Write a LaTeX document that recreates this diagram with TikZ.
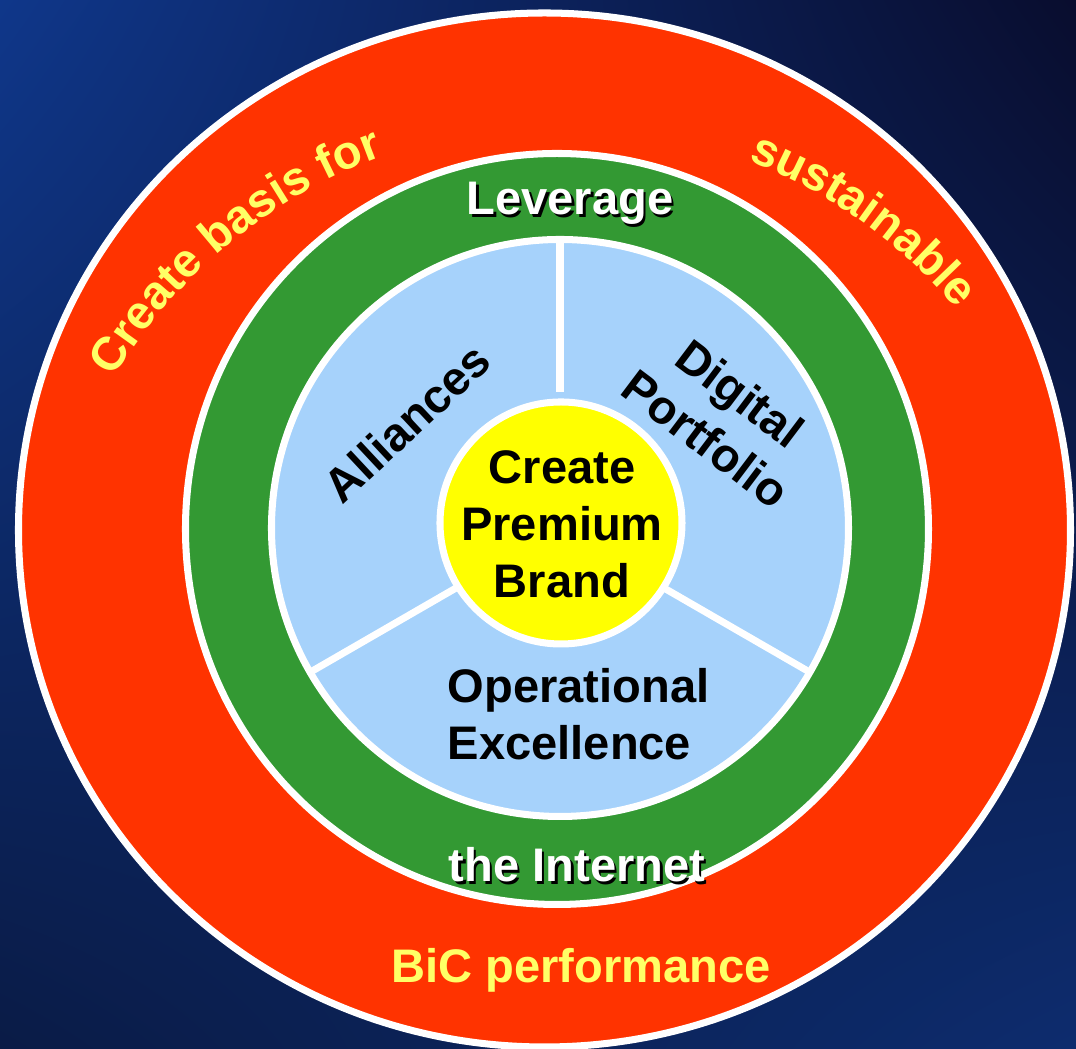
\documentclass[tikz,border=0pt]{standalone}
\usepackage{fontspec}
\setmainfont{Liberation Sans}
\usetikzlibrary{decorations.text,shadings}

\definecolor{bgtl}{HTML}{0F378A}
\definecolor{bgtr}{HTML}{090D2E}
\definecolor{bgbl}{HTML}{0A1B46}
\definecolor{bgbr}{HTML}{0D2C6E}
\definecolor{ringred}{HTML}{FF3300}
\definecolor{ringgreen}{HTML}{339933}
\definecolor{diskblue}{HTML}{A6D2FB}
\definecolor{coreyellow}{HTML}{FFFF00}
\definecolor{wordyellow}{HTML}{FFFF66}

\newcommand{\bigbf}{\fontsize{13.4}{16.2}\selectfont\bfseries}

\tikzset{
  ring/.style={draw=white, line width=2pt},
  spoke/.style={white, line width=2pt},
  words/.style={font=\bigbf, inner sep=0pt},
  shadowed/.style={words, text=black},
  ringwords/.style={decorate, decoration={text along path, text align=center, text={|\bigbf\color{wordyellow}|#1}}}
}

\begin{document}
\begin{tikzpicture}

%definitions

\def\ra{5.26} % red ring, horizontal radius
\def\rb{5.17} % red ring, vertical radius
\def\rga{3.715} % green ring, horizontal radius
\def\rgb{3.755} % green ring, vertical radius
\def\rl{2.885} % blue disc
\def\ry{1.21} % yellow core
\def\rt{5.20} % arched words

\useasboundingbox (-5.60,-5.21) rectangle (5.16,5.28);
\clip (-5.60,-5.21) rectangle (5.16,5.28);

%background
\shade[upper left=bgtl, upper right=bgtr, lower left=bgbl, lower right=bgbr] (-5.60,-5.21) rectangle (5.16,5.28);

%rings
\filldraw[ring, fill=ringred] (-0.155,-0.02) ellipse [x radius=\ra, y radius=\rb]; % outer ring
\filldraw[ring, fill=ringgreen] (-0.03,-0.01) ellipse [x radius=\rga, y radius=\rgb]; % green ring
\filldraw[ring, fill=diskblue] (0,0) circle (\rl); % blue disc

\draw[spoke] (90:1.36) -- (90:\rl); % upper spoke
\foreach \a in {210,330} \draw[spoke] (\a:1.1) -- (\a:\rl); % lower spokes

\filldraw[ring, fill=coreyellow] (0.01,0.05) circle (\ry); % core

%arched words on the red ring
\path[shift={(0,-1.17)}, ringwords={Create basis for}] (160:\rt) arc[start angle=160, end angle=99, radius=\rt];
\path[shift={(0,-1.17)}, ringwords={sustainable}] (85:\rt) arc[start angle=85, end angle=24, radius=\rt];
\node[words, text=wordyellow, anchor=base] (bic) at (0.21,-4.55) {BiC performance};

%green ring words, with a drop shadow
\node[shadowed, anchor=base] (levshadow) at (0.125,3.105) {Leverage};
\node[words, text=white, anchor=base] (lev) at (0.10,3.13) {Leverage};
\node[shadowed, anchor=base] (netshadow) at (0.195,-3.565) {the Internet};
\node[words, text=white, anchor=base] (net) at (0.17,-3.54) {the Internet};

%blue disc words
\node[words, rotate=43] (alli) at (-1.53,1.05) {Alliances};
\node[words, rotate=-37, align=center] (digi) at (1.63,1.12) {Digital\\Portfolio};
\node[words, align=left, anchor=west] (opex) at (-1.13,-1.86) {Operational\\Excellence};

%core
\node[words, align=center] (brand) at (0.02,0.035) {Create\\Premium\\Brand};

\end{tikzpicture}
\end{document}
